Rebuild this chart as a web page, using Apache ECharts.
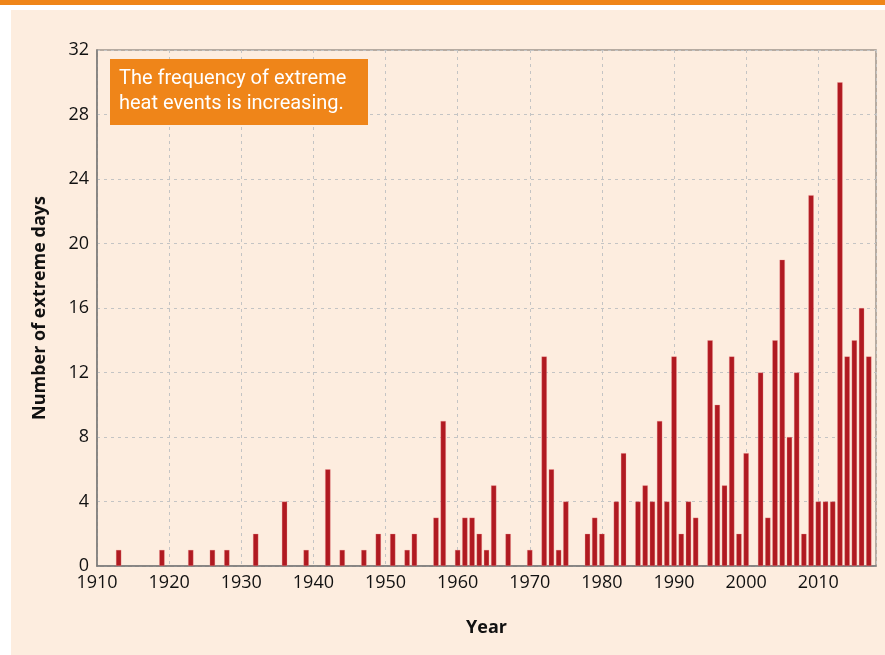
<!DOCTYPE html>
<html>
<head>
<meta charset="utf-8">
<style>
html,body{margin:0;padding:0;background:#fff;}
#chart{width:885px;height:655px;}
</style>
<script src="https://cdn.jsdelivr.net/npm/echarts@6/dist/echarts.min.js"></script>
</head>
<body>
<div id="chart"></div>
<script>
var years = [1913,1919,1923,1926,1928,1932,1936,1939,1942,1944,1947,1949,1951,1953,1954,1957,1958,1960,1961,1962,1963,1964,1965,1967,1970,1972,1973,1974,1975,1978,1979,1980,1982,1983,1985,1986,1987,1988,1989,1990,1991,1992,1993,1995,1996,1997,1998,1999,2000,2002,2003,2004,2005,2006,2007,2008,2009,2010,2011,2012,2013,2014,2015,2016,2017];
var extremeDays = [1,1,1,1,1,2,4,1,6,1,1,2,2,1,2,3,9,1,3,3,2,1,5,2,1,13,6,1,4,2,3,2,4,7,4,5,4,9,4,13,2,4,3,14,10,5,13,2,7,12,3,14,19,8,12,2,23,4,4,4,30,13,14,16,13];
var yTicks = [0,4,8,12,16,20,24,28,32];
var xTicks = [1910,1920,1930,1940,1950,1960,1970,1980,1990,2000,2010];
var annotationLines = ['The frequency of extreme', 'heat events is increasing.'];
var yTitle = 'Number of extreme days';
var xTitle = 'Year';

var chart = echarts.init(document.getElementById('chart'), null, {renderer:'canvas'});
var font = 'Open Sans';
var option = {
  backgroundColor: '#ffffff',
  animation: false,
  graphic: [
    {type:'rect', z:-10, shape:{x:0,y:0,width:885,height:5}, style:{fill:'#ef8519'}},
    {type:'rect', z:-10, shape:{x:11,y:10,width:874,height:645}, style:{fill:'#fdeddf'}},
    {type:'rect', z:100, shape:{x:110,y:59,width:258,height:66}, style:{fill:'#ef8519'}},
    {type:'text', z:101, left:119, top:66, style:{text: annotationLines.join('\n'), fill:'#ffffff', font:'20px Roboto', lineHeight:25}}
  ],
  grid: {left:97, top:50, right:9, bottom:89, show:true, borderColor:'#9e958d', borderWidth:1.5, backgroundColor:'transparent'},
  xAxis: {
    type:'value', min: xTicks[0], max: 2018, interval: 10,
    name: xTitle, nameLocation:'middle', nameGap: 53,
    nameTextStyle:{fontFamily:font, fontSize:18, fontWeight:'bold', color:'#111'},
    axisLine:{show:true, onZero:false, lineStyle:{color:'#7a7a7a', width:1.5}},
    axisTick:{show:false},
    axisLabel:{showMaxLabel:false, showMinLabel:true, fontFamily:font, fontSize:18, color:'#111', margin:8,
      formatter:function(v){ return String(v); }},
    splitLine:{show:true, lineStyle:{type:[3,4], color:'#c4c4c4', width:1}}
  },
  yAxis: {
    type:'value', min: yTicks[0], max: yTicks[yTicks.length-1], interval: 4,
    name: yTitle, nameLocation:'middle', nameGap: 48,
    nameTextStyle:{fontFamily:font, fontSize:18, fontWeight:'bold', color:'#111'},
    axisLine:{show:true, lineStyle:{color:'#7a7a7a', width:1.5}},
    axisTick:{show:false},
    axisLabel:{fontFamily:font, fontSize:18, color:'#111', margin:8},
    splitLine:{show:true, lineStyle:{type:[3,4], color:'#c4c4c4', width:1}}
  },
  series: [{
    type:'bar',
    data: years.map(function(y,i){ return [y, extremeDays[i]]; }),
    barWidth: 5.4,
    itemStyle:{color:'#b01a21', borderColor:'rgba(240,150,150,0.6)', borderWidth:0.5}
  }]
};
chart.setOption(option);
</script>
</body>
</html>
